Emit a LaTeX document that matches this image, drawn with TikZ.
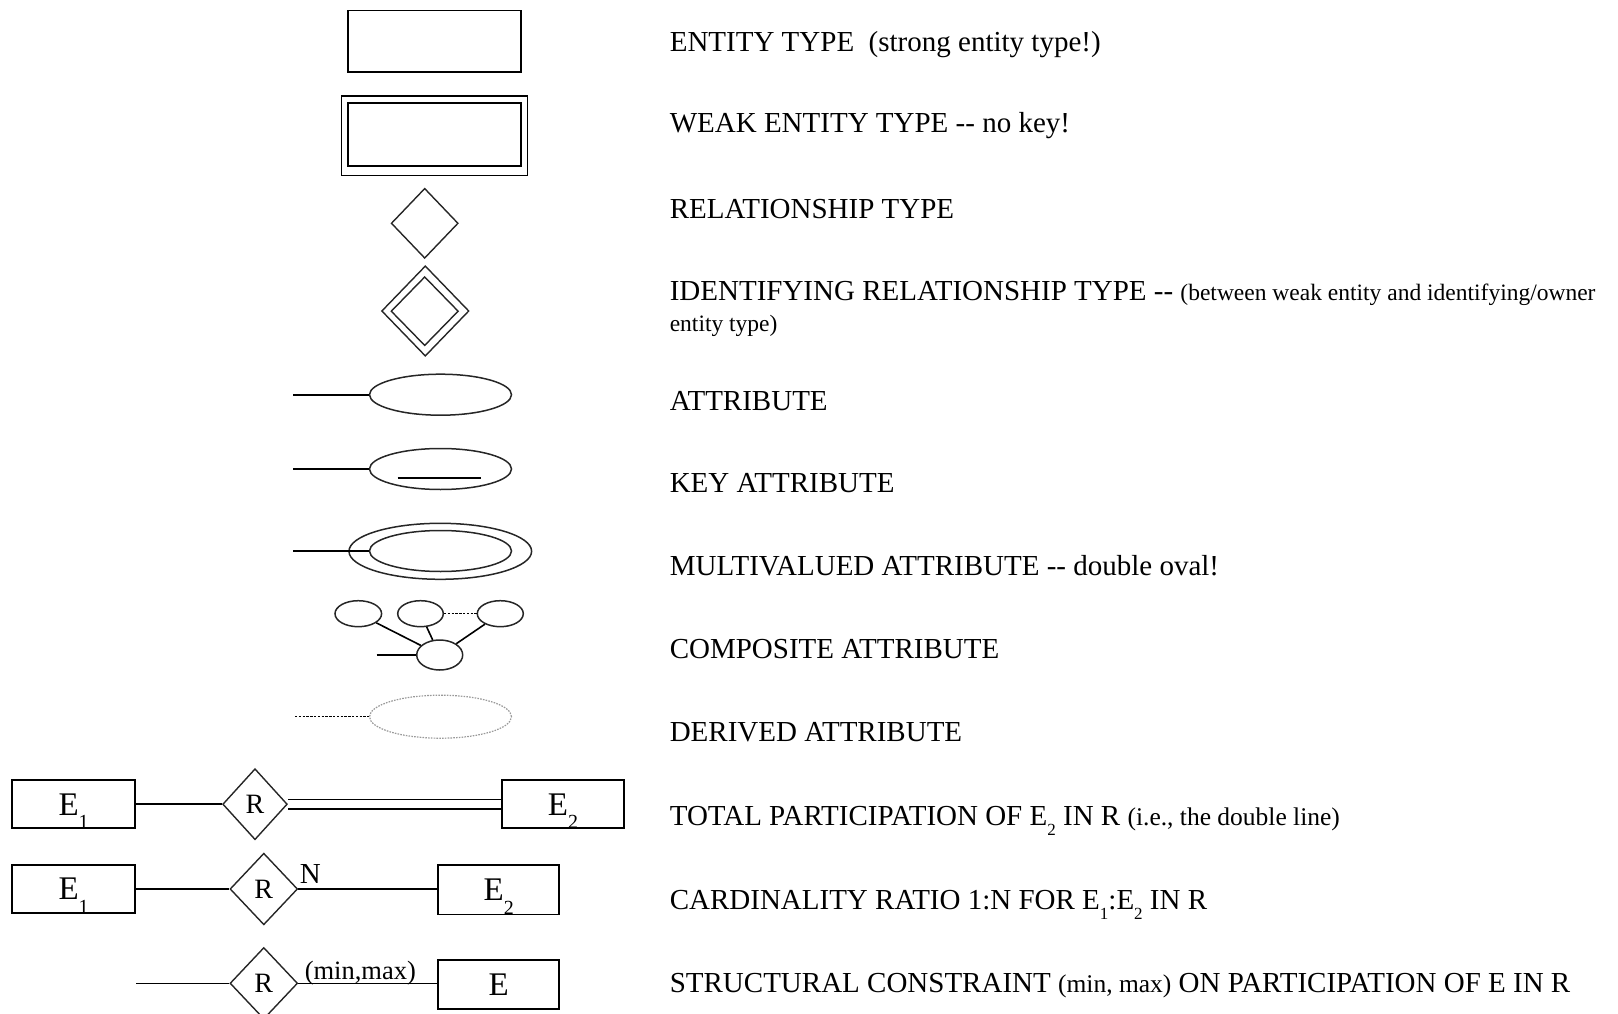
\documentclass[tikz,border=0pt]{standalone}
\usepackage{fontspec}
\setmainfont{Liberation Serif}
\usetikzlibrary{shapes.geometric}
\newcommand{\mysub}[1]{\raisebox{-0.36em}{\fontsize{17}{17}\selectfont #1}}
\newcommand{\bigsub}[1]{\raisebox{-0.42em}{\fontsize{20}{20}\selectfont #1}}
\newcommand{\smallpar}{\fontsize{25.5}{28}\selectfont}
\begin{document}
\begin{tikzpicture}[x=1pt,y=-1pt,line width=1.6pt,
  ent/.style={draw, rectangle, inner sep=0pt, line width=1.8pt},
  bent/.style={ent, minimum width=122.6pt, minimum height=47.7pt, text depth=0pt, font=\fontsize{33}{36}\selectfont},
  rel/.style={draw=black!85, diamond, inner sep=0pt, minimum width=67pt, minimum height=70pt, line width=1.4pt, font=\fontsize{28}{30}\selectfont},
  att/.style={draw=black!85, ellipse, inner sep=0pt, line width=1.5pt},
  lbl/.style={anchor=base west, inner sep=0pt, font=\fontsize{29}{34}\selectfont},
  dotline/.style={line width=1.5pt, dash pattern=on 2.4pt off 1.4pt}
]
\useasboundingbox (0,0) rectangle (1618,1014);

% ---- entity types ----
\node[ent, minimum width=173pt, minimum height=61.5pt] (ent) at (434.4,41.2) {};
\node[ent, minimum width=186pt, minimum height=79.5pt] (weako) at (434.4,135.7) {};
\node[ent, minimum width=172.4pt, minimum height=63pt] (weaki) at (434.5,134.2) {};

% ---- relationship types ----
\node[rel] (rel) at (424.7,223.3) {};
\node[rel, minimum width=87.4pt, minimum height=90.4pt] (idrelo) at (425.3,311) {};
\node[rel, minimum width=67.4pt, minimum height=69pt] (idreli) at (424.7,311.2) {};

% ---- attribute ----
\coordinate (a1) at (293.3,394.7);
\node[att, minimum width=142pt, minimum height=41pt] (attr) at (440.5,394.7) {};
\draw (a1) -- (attr);

% ---- key attribute ----
\coordinate (a2) at (293.3,469);
\node[att, minimum width=142pt, minimum height=41pt] (katt) at (440.5,469) {};
\draw (a2) -- (katt);
\draw ([shift={(-42.8,8.7)}]katt.center) -- ([shift={(40.5,8.7)}]katt.center);

% ---- multivalued attribute ----
\node[att, minimum width=182.6pt, minimum height=56pt] (mvo) at (440.3,551.3) {};
\node[att, minimum width=142pt, minimum height=41pt] (mvi) at (440.5,551) {};
\coordinate (a3) at (293.3,551);
\draw (a3) -- (mvi.west);

% ---- composite attribute ----
\node[att, minimum width=46.6pt, minimum height=26pt] (c1) at (358.3,613.7) {};
\node[att, minimum width=45.6pt, minimum height=26pt] (c2) at (420.5,613.7) {};
\node[att, minimum width=46pt, minimum height=26pt] (c3) at (500.3,613.7) {};
\node[att, minimum width=46pt, minimum height=30pt] (cc) at (439.7,655) {};
\draw (c1) -- (cc);
\draw (c2) -- (cc);
\draw (c3) -- (cc);
\draw[dotline] (c2) -- (c3);
\coordinate (a4) at (376.7,655);
\draw (a4) -- (cc);

% ---- derived attribute ----
\node[att, draw=black!40, line width=1.2pt, dash pattern=on 1.6pt off 1.2pt, minimum width=142pt, minimum height=43pt] (der) at (440.5,716.7) {};
\coordinate (a5) at (295,716.7);
\draw[dotline] (a5) -- (der);

% ---- total participation ----
\node[bent] (e1a) at (73.6,804.2) {E\bigsub{1}};
\node[rel, minimum width=64.6pt, minimum height=71pt] (ra) at (255,804.2) {R};
\node[bent] (e2a) at (563,804.2) {E\bigsub{2}};
\draw (e1a) -- (ra);
\draw[double, double distance=7.8pt] (ra) -- (e2a);

% ---- cardinality ratio ----
\node[bent, minimum height=48.3pt] (e1b) at (73.6,889) {E\bigsub{1}};
\node[rel, minimum width=67.6pt, minimum height=71.6pt] (rb) at (263.8,889) {R};
\node[bent, minimum width=120.7pt, minimum height=49.3pt] (e2b) at (498.7,889.8) {E\bigsub{2}};
\draw (e1b) -- (rb);
\draw (rb.east) -- (rb.east -| e2b.west);
\node[anchor=base west, inner sep=0pt, font=\fontsize{29}{30}\selectfont] (nlab) at (299,883.3) {N};

% ---- structural constraint ----
\coordinate (a6) at (136,983.3);
\node[rel, minimum width=67.6pt, minimum height=71.6pt] (rc) at (263.8,983.3) {R};
\node[bent, minimum width=120.7pt, minimum height=49.3pt] (e3) at (498.7,984.6) {E};
\draw (a6) -- (rc);
\draw (rc.east) -- (rc.east -| e3.west);
\node[anchor=base west, inner sep=0pt, font=\fontsize{26.5}{28}\selectfont] (mm) at (304,979.5) {(min,max)};

% ---- descriptions ----
\node[lbl] (t1) at (669,51.7) {ENTITY TYPE~~(strong entity type!)};
\node[lbl] (t2) at (669,132.7) {WEAK ENTITY TYPE -{}- no key!};
\node[lbl] (t3) at (669,218.3) {RELATIONSHIP TYPE};
\node[lbl] (t4) at (669,300) {IDENTIFYING RELATIONSHIP TYPE -{}- {\fontsize{23.5}{28}\selectfont (between weak entity and identifying/owner}};
\node[lbl, font=\fontsize{23.5}{28}\selectfont] (t4b) at (669,331.5) {entity type)};
\node[lbl] (t5) at (669,410.7) {ATTRIBUTE};
\node[lbl] (t6) at (669,492.7) {KEY ATTRIBUTE};
\node[lbl] (t7) at (669,575) {MULTIVALUED ATTRIBUTE -{}- double oval!};
\node[lbl] (t8) at (669,658.3) {COMPOSITE ATTRIBUTE};
\node[lbl] (t9) at (669,741.7) {DERIVED ATTRIBUTE};
\node[lbl] (t10) at (669,825) {TOTAL PARTICIPATION OF E\mysub{2} IN R {\smallpar (i.e., the double line)}};
\node[lbl] (t11) at (669,909.3) {CARDINALITY RATIO 1:N FOR E\mysub{1}:E\mysub{2} IN R};
\node[lbl] (t12) at (669,992.7) {STRUCTURAL CONSTRAINT {\smallpar (min, max)} ON PARTICIPATION OF E IN R};
\end{tikzpicture}
\end{document}
